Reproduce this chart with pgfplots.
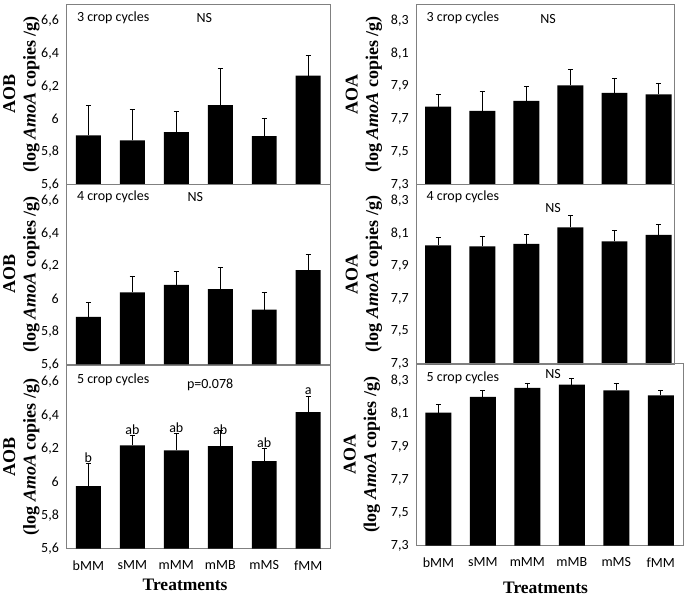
\documentclass[border=0pt]{standalone}
\usepackage{pgfplots}
\pgfplotsset{compat=1.18}
\usepackage{fontspec}
\setmainfont{Carlito}
\newfontfamily\tnr{Liberation Serif}
\newcommand{\tk}{\fontsize{14}{16}\selectfont}
\pgfplotsset{
  panel/.style={
    scale only axis, ybar, bar width=25pt,
    xmin=-0.5, xtick={0,1,2,3,4,5},
    xticklabels={}, 
    tick style={draw=none},
    axis line style={draw=gray, line width=0.9pt},
    tick label style={font=\tk},
    yticklabel style={xshift=-4pt},
    ylabel style={align=center, font=\fontsize{18}{20.5}\selectfont\tnr\bfseries, anchor=center, rotate=0},
    clip=true,
  },
  aob/.style={ymin=5.6, ymax=6.7, ytick={5.6,5.8,6.0,6.2,6.4,6.6},
    yticklabels={{5,6},{5,8},{6},{6,2},{6,4},{6,6}},
    ylabel={AOB\\(log \textit{AmoA} copies /g)},
    ylabel style={at={(axis description cs:-0.17,0.5)}}},
  aoa/.style={ymin=7.3, ymax=8.4, ytick={7.3,7.5,7.7,7.9,8.1,8.3},
    yticklabels={{7,3},{7,5},{7,7},{7,9},{8,1},{8,3}},
    ylabel={AOA\\(log \textit{AmoA} copies /g)},
    ylabel style={at={(axis description cs:-0.203,0.5)}}},
  barplot/.style={fill=black, draw=none,
    error bars/y dir=plus, error bars/y explicit,
    error bars/error bar style={black, line width=0.8pt},
    error bars/error mark options={rotate=90, mark size=2.6pt, black, line width=0.8pt}},
  treat/.style={xticklabels={bMM,sMM,mMM,mMB,mMS,fMM},
    xticklabel style={yshift=-4pt},
    xlabel={Treatments},
    xlabel style={font=\fontsize{17.5}{19}\selectfont\tnr\bfseries}},
}
\begin{document}
\begin{tikzpicture}
\path (0,0) rectangle (685pt,592pt);
% ---------- AOB 3 cycles
\begin{axis}[panel, aob, at={(66pt,589.4pt)}, anchor=north west, width=264pt, height=180.4pt, xmax=5.5]
\addplot+[barplot] coordinates {(0,5.90) +- (0,0.185) (1,5.87) +- (0,0.19) (2,5.92) +- (0,0.125) (3,6.085) +- (0,0.225) (4,5.895) +- (0,0.11) (5,6.265) +- (0,0.125)};
\node[anchor=west, font=\tk] at (rel axis cs:0.027,0.926) {3 crop cycles};
\node[font=\tk] at (rel axis cs:0.523,0.926) {NS};
\end{axis}
% ---------- AOB 4 cycles
\begin{axis}[panel, aob, at={(66pt,409.4pt)}, anchor=north west, width=264pt, height=180.4pt, xmax=5.5]
\addplot+[barplot] coordinates {(0,5.89) +- (0,0.09) (1,6.04) +- (0,0.10) (2,6.085) +- (0,0.08) (3,6.06) +- (0,0.13) (4,5.935) +- (0,0.105) (5,6.175) +- (0,0.095)};
\node[anchor=west, font=\tk] at (rel axis cs:0.027,0.931) {4 crop cycles};
\node[font=\tk] at (rel axis cs:0.489,0.931) {NS};
\end{axis}
% ---------- AOB 5 cycles
\begin{axis}[panel, aob, treat, at={(66pt,228.1pt)}, anchor=north west, width=264pt, height=183.4pt, xmax=5.5,
  xlabel style={at={(axis description cs:0.45,-0.2)}, anchor=center}]
\addplot+[barplot] coordinates {(0,5.975) +- (0,0.135) (1,6.22) +- (0,0.06) (2,6.19) +- (0,0.10) (3,6.215) +- (0,0.095) (4,6.125) +- (0,0.075) (5,6.42) +- (0,0.095)};
\node[anchor=west, font=\tk] at (rel axis cs:0.027,0.923) {5 crop cycles};
\node[font=\tk] at (rel axis cs:0.545,0.896) {p=0.078};
\node[anchor=south, inner sep=1pt, font=\tk] at (axis cs:0,6.11) {b};
\node[anchor=south, inner sep=1pt, font=\tk] at (axis cs:1,6.28) {ab};
\node[anchor=south, inner sep=1pt, font=\tk] at (axis cs:2,6.29) {ab};
\node[anchor=south, inner sep=1pt, font=\tk] at (axis cs:3,6.275) {ab};
\node[anchor=south, inner sep=1pt, font=\tk] at (axis cs:4,6.20) {ab};
\node[anchor=south, inner sep=1pt, font=\tk] at (axis cs:5,6.515) {a};
\end{axis}
% ---------- AOA 3 cycles
\begin{axis}[panel, aoa, at={(416pt,589.4pt)}, anchor=north west, width=258pt, height=180.4pt, xmax=5.35, bar width=26pt]
\addplot+[barplot] coordinates {(0,7.775) +- (0,0.075) (1,7.75) +- (0,0.12) (2,7.81) +- (0,0.09) (3,7.905) +- (0,0.095) (4,7.86) +- (0,0.085) (5,7.85) +- (0,0.07)};
\node[anchor=west, font=\tk] at (rel axis cs:0.027,0.926) {3 crop cycles};
\node[font=\tk] at (rel axis cs:0.512,0.92) {NS};
\end{axis}
% ---------- AOA 4 cycles
\begin{axis}[panel, aoa, at={(416pt,409.4pt)}, anchor=north west, width=258pt, height=180pt, xmax=5.35, bar width=26pt]
\addplot+[barplot] coordinates {(0,8.025) +- (0,0.05) (1,8.02) +- (0,0.06) (2,8.035) +- (0,0.055) (3,8.135) +- (0,0.075) (4,8.05) +- (0,0.065) (5,8.09) +- (0,0.065)};
\node[anchor=west, font=\tk] at (rel axis cs:0.027,0.93) {4 crop cycles};
\node[font=\tk] at (rel axis cs:0.531,0.865) {NS};
\end{axis}
% ---------- AOA 5 cycles
\begin{axis}[panel, aoa, treat, at={(416pt,229.5pt)}, anchor=north west, width=267pt, height=181.8pt, xmax=5.5, bar width=26pt,
  xlabel style={at={(axis description cs:0.485,-0.23)}, anchor=center}]
\addplot+[barplot] coordinates {(0,8.105) +- (0,0.05) (1,8.20) +- (0,0.04) (2,8.255) +- (0,0.03) (3,8.275) +- (0,0.04) (4,8.24) +- (0,0.04) (5,8.21) +- (0,0.03)};
\node[anchor=west, font=\tk] at (rel axis cs:0.026,0.926) {5 crop cycles};
\node[font=\tk] at (rel axis cs:0.513,0.942) {NS};
\end{axis}
\end{tikzpicture}
\end{document}
